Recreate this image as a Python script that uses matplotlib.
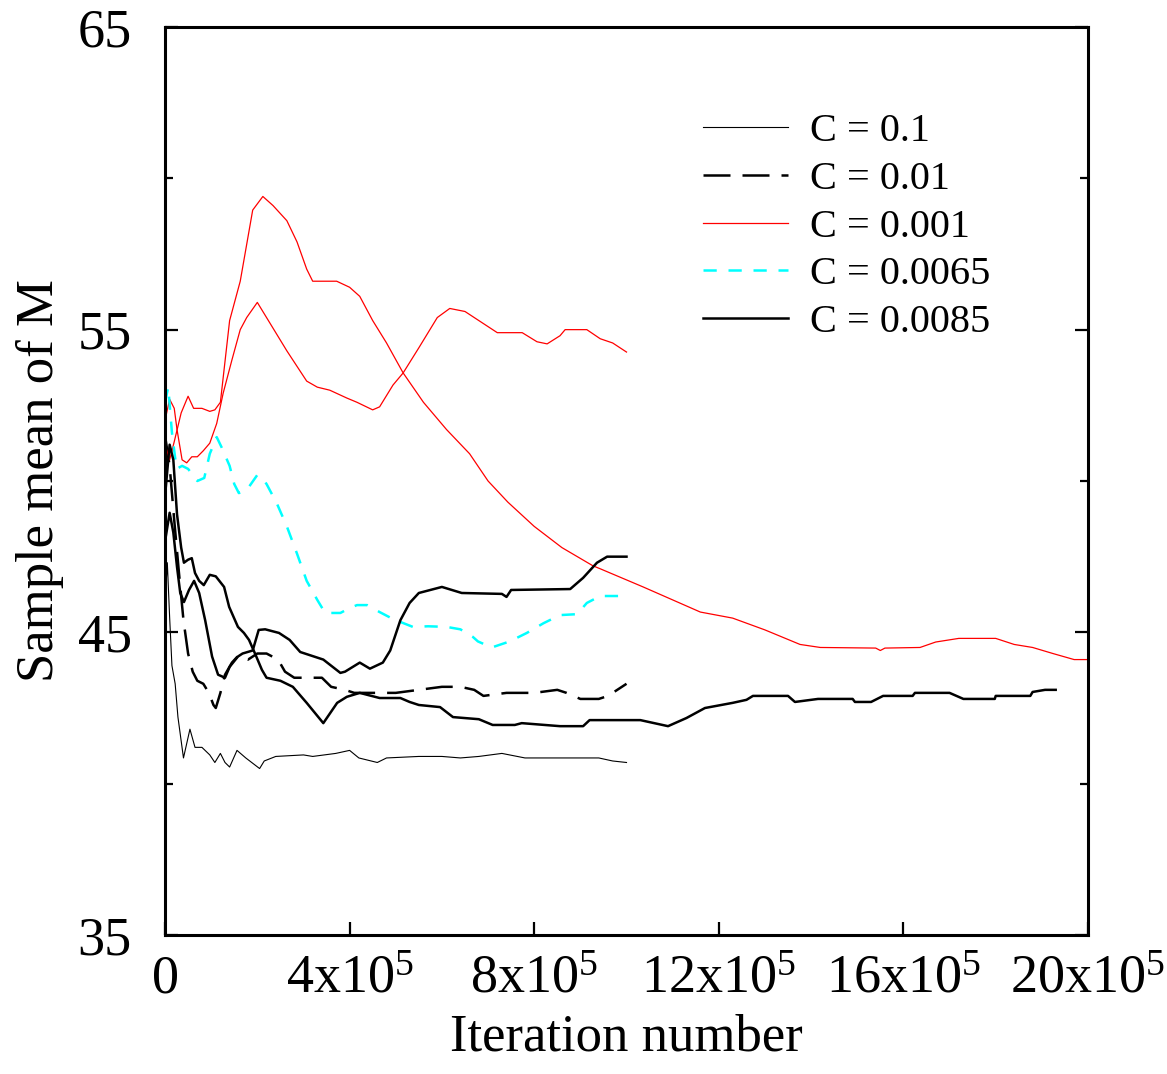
import numpy as np
import matplotlib
matplotlib.use("Agg")
import matplotlib.pyplot as plt
from matplotlib.ticker import FixedLocator

plt.rcParams['font.family'] = ['Liberation Serif', 'DejaVu Serif']
plt.rcParams['mathtext.fontset'] = 'custom'
plt.rcParams['mathtext.rm'] = 'Liberation Serif'
plt.rcParams['mathtext.it'] = 'Liberation Serif:italic'

# iteration numbers are stored in units of 1e5
SCALE = 1e5

# C = 0.1 (thin black)
x_c01 = [0, 0.05, 0.1, 0.15, 0.22, 0.28, 0.4, 0.54, 0.65, 0.8, 0.97, 1.08, 1.2, 1.3, 1.4,
         1.56, 1.75, 2.05, 2.15, 2.4, 3.0, 3.2, 3.7, 4.0, 4.2, 4.6, 4.8, 5.5, 6.0, 6.4,
         6.8, 7.3, 7.8, 8.2, 9.4, 9.7, 10.0]
y_c01 = [46.0, 47.3, 45.5, 43.9, 43.3, 42.2, 40.85, 41.8, 41.2, 41.2, 40.95, 40.7, 41.0, 40.7, 40.55,
         41.1, 40.85, 40.5, 40.75, 40.9, 40.95, 40.9, 41.0, 41.1, 40.85, 40.7, 40.85, 40.9, 40.9, 40.85,
         40.9, 41.0, 40.85, 40.85, 40.85, 40.75, 40.7]

# C = 0.01 (black dashed)
x_c001 = [0, 0.1, 0.2, 0.3, 0.4, 0.5, 0.6, 0.7, 0.83, 0.95, 1.05, 1.1, 1.2, 1.3, 1.45, 1.6,
          1.8, 2.0, 2.2, 2.45, 2.6, 2.8, 3.0, 3.4, 3.6, 3.9, 4.1, 4.5, 5.0, 5.5, 6.0, 6.4,
          6.7, 6.9, 7.4, 8.0, 8.5, 8.7, 9.0, 9.4, 9.6, 9.8, 10.0]
y_c001 = [51.5, 50.5, 48.7, 47.0, 45.4, 44.3, 43.7, 43.4, 43.3, 43.0, 42.6, 42.5, 43.0, 43.6, 44.0, 44.25,
          44.1, 44.3, 44.3, 44.1, 43.7, 43.5, 43.5, 43.5, 43.2, 43.1, 43.0, 43.0, 43.0, 43.1, 43.2, 43.2,
          43.1, 42.9, 43.0, 43.0, 43.1, 43.0, 42.8, 42.8, 42.9, 43.1, 43.3]

# C = 0.001 (red), two runs
x_red_a = [0, 0.1, 0.2, 0.26, 0.37, 0.47, 0.58, 0.7, 0.83, 0.97, 1.12, 1.26, 1.45, 1.63, 1.77,
           2.0, 2.2, 2.64, 3.07, 3.3, 3.57, 3.94, 4.16, 4.5, 4.65, 4.94, 5.16, 5.5, 5.9, 6.17,
           6.5, 6.8, 7.2, 7.74, 8.06, 8.28, 8.56, 8.67, 9.14, 9.43, 9.7, 10.0]
y_red_a = [52.0, 52.7, 52.4, 51.7, 50.7, 50.6, 50.8, 50.8, 51.0, 51.25, 51.9, 52.9, 54.0, 55.0, 55.4,
           55.9, 55.4, 54.3, 53.3, 53.1, 53.0, 52.74, 52.6, 52.35, 52.45, 53.17, 53.57, 54.4, 55.4, 55.7,
           55.6, 55.3, 54.9, 54.9, 54.6, 54.53, 54.8, 55.0, 55.0, 54.7, 54.56, 54.26]
x_red_b = [0, 0.1, 0.2, 0.35, 0.5, 0.62, 0.8, 0.97, 1.08, 1.2, 1.4, 1.63, 1.9, 2.12, 2.34,
           2.64, 2.86, 3.07, 3.2, 3.72, 4.0, 4.22, 4.5, 4.8, 5.16, 5.6, 6.1, 6.6, 7.0, 7.43,
           8.0, 8.6, 9.27, 9.43, 10.36, 11.6, 12.3, 13.0, 13.76, 14.2, 15.4, 15.5, 15.6, 16.36,
           16.7, 17.2, 18.0, 18.4, 18.8, 19.24, 19.7, 20.0]
y_red_b = [51.2, 50.7, 51.3, 52.25, 52.8, 52.4, 52.4, 52.3, 52.35, 52.6, 55.3, 56.6, 58.95, 59.4, 59.1,
           58.6, 57.9, 57.0, 56.6, 56.6, 56.4, 56.1, 55.3, 54.56, 53.57, 52.6, 51.7, 50.9, 50.0, 49.3,
           48.5, 47.8, 47.2, 47.1, 46.5, 45.67, 45.47, 45.08, 44.6, 44.5, 44.48, 44.4, 44.48, 44.5,
           44.68, 44.8, 44.8, 44.6, 44.5, 44.3, 44.1, 44.1]

# C = 0.0065 (cyan dashed)
x_c65 = [0, 0.07, 0.15, 0.25, 0.37, 0.5, 0.6, 0.7, 0.85, 0.97, 1.12, 1.23, 1.4, 1.5, 1.6,
         1.77, 2.0, 2.1, 2.2, 2.42, 2.64, 2.86, 3.07, 3.3, 3.47, 3.8, 4.0, 4.16, 4.38, 4.65,
         4.94, 5.37, 5.7, 6.1, 6.4, 6.67, 6.78, 7.08, 7.47, 7.84, 8.2, 8.56, 8.93, 9.14, 9.43, 10.0]
y_c65 = [52.6, 53.1, 51.6, 50.4, 50.5, 50.4, 50.2, 50.0, 50.1, 50.9, 51.45, 51.1, 50.5, 49.9, 49.6,
         49.7, 50.2, 50.1, 49.9, 49.27, 48.5, 47.6, 46.7, 46.07, 45.64, 45.64, 45.8, 45.9, 45.9, 45.67,
         45.44, 45.18, 45.2, 45.18, 45.1, 44.85, 44.7, 44.5, 44.7, 44.98, 45.3, 45.57, 45.6, 45.97, 46.2, 46.2]

# C = 0.0085 (thick black), two runs
x_c85_a = [0, 0.1, 0.18, 0.26, 0.33, 0.41, 0.52, 0.63, 0.74, 0.87, 1.02, 1.15, 1.3, 1.4, 1.58,
           1.68, 1.9, 2.03, 2.17, 2.47, 2.7, 2.93, 3.43, 3.8, 3.9, 4.22, 4.44, 4.72, 4.88, 5.1,
           5.3, 5.5, 6.0, 6.43, 7.3, 7.4, 7.5, 8.78, 9.06, 9.36, 9.58, 10.0]
y_c85_a = [48.0, 48.95, 48.3, 47.16, 46.3, 46.0, 46.4, 46.7, 46.3, 45.4, 44.2, 43.6, 43.5, 43.86, 44.2,
           44.3, 44.4, 45.08, 45.1, 44.98, 44.75, 44.35, 44.1, 43.66, 43.7, 44.0, 43.8, 44.0, 44.4, 45.4,
           45.97, 46.3, 46.5, 46.3, 46.27, 46.17, 46.4, 46.43, 46.8, 47.3, 47.5, 47.5]
x_c85_b = [0, 0.1, 0.18, 0.26, 0.35, 0.41, 0.5, 0.58, 0.65, 0.74, 0.84, 0.97, 1.1, 1.28, 1.39,
           1.58, 1.71, 1.82, 1.95, 2.1, 2.2, 2.5, 2.77, 3.07, 3.43, 3.73, 3.94, 4.22, 4.65, 5.1,
           5.3, 5.5, 5.96, 6.24, 6.8, 7.1, 7.58, 7.73, 8.56, 9.06, 9.2, 9.53, 9.97, 10.3, 10.9,
           11.3, 11.7, 12.3, 12.6, 12.74, 13.5, 13.65, 14.15, 14.9, 14.95, 15.3, 15.56, 16.2,
           16.25, 17.0, 17.3, 17.98, 18.0, 18.75, 18.8, 19.07, 19.3]
y_c85_b = [49.5, 51.2, 50.7, 48.9, 47.8, 47.3, 47.4, 47.45, 46.96, 46.7, 46.56, 46.9, 46.85, 46.5, 45.84,
           45.18, 44.98, 44.75, 44.3, 43.76, 43.5, 43.4, 43.2, 42.67, 42.0, 42.67, 42.87, 43.0, 42.83, 42.83,
           42.7, 42.6, 42.53, 42.2, 42.13, 41.94, 41.94, 42.0, 41.9, 41.9, 42.1, 42.1, 42.1, 42.1, 41.9,
           42.17, 42.5, 42.67, 42.77, 42.9, 42.9, 42.7, 42.8, 42.8, 42.7, 42.7, 42.9, 42.9,
           43.0, 43.0, 42.8, 42.8, 42.9, 42.9, 43.03, 43.1, 43.1]

x_ticks = [0, 4, 8, 12, 16, 20]
x_tick_labels = ['0', r'4x10$^5$', r'8x10$^5$', r'12x10$^5$', r'16x10$^5$', r'20x10$^5$']
y_major = [35, 45, 55, 65]
y_minor = [40, 50, 60]


def sc(x):
    return np.array(x) * SCALE


fig = plt.figure(figsize=(11.67, 10.74), dpi=100)
ax = fig.add_axes([0.1414, 0.1294, 0.7909, 0.8455])

ax.plot(sc(x_c01), y_c01, color='black', lw=0.8, label='C = 0.1')
ax.plot(sc(x_c001), y_c001, color='black', lw=1.8, dashes=(10.8, 4.8), label='C = 0.01')
ax.plot(sc(x_red_a), y_red_a, color='#ff0000', lw=0.9, label='C = 0.001')
ax.plot(sc(x_red_b), y_red_b, color='#ff0000', lw=0.9)
ax.plot(sc(x_c65), y_c65, color='#00ffff', lw=1.8, dashes=(5.3, 4.7), label='C = 0.0065')
ax.plot(sc(x_c85_a), y_c85_a, color='black', lw=1.8, label='C = 0.0085')
ax.plot(sc(x_c85_b), y_c85_b, color='black', lw=1.8)

ax.set_xlim(0, 20 * SCALE)
ax.set_ylim(35, 65)
ax.xaxis.set_major_locator(FixedLocator(sc(x_ticks)))
ax.set_xticklabels(x_tick_labels)
ax.yaxis.set_major_locator(FixedLocator(y_major))
ax.yaxis.set_minor_locator(FixedLocator(y_minor))

for s in ax.spines.values():
    s.set_linewidth(2.2)

ax.tick_params(axis='both', which='major', direction='in', length=9.5, width=1.6,
               labelsize=39, right=True, top=False)
ax.tick_params(axis='y', which='minor', direction='in', length=6, width=1.6, right=True)
ax.tick_params(axis='y', which='major', pad=24)
ax.tick_params(axis='x', which='major', pad=14)

ax.set_xlabel('Iteration number', fontsize=38, labelpad=6)
ax.set_ylabel('Sample mean of M', fontsize=38, labelpad=10)

ax.legend(loc='upper left', bbox_to_anchor=(0.583, 0.905), frameon=False, fontsize=29,
          handlelength=2.1, handletextpad=0.55, labelspacing=0.26, borderpad=0, borderaxespad=0)

fig.savefig('out.png', dpi=100)
